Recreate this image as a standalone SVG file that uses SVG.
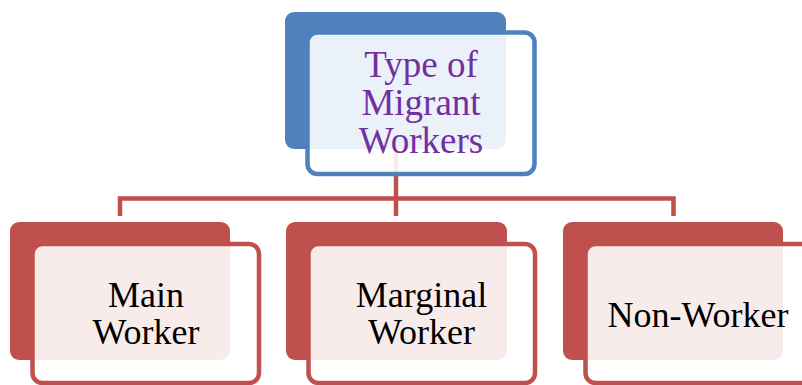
<svg xmlns="http://www.w3.org/2000/svg" width="802" height="385" viewBox="0 0 802 385">
<style>
.conn{fill:none;stroke:#c0504d;stroke-width:4.5;stroke-linejoin:miter}
.backB{fill:#4f81bd}
.frontB{fill:#ffffff;fill-opacity:0.89;stroke:#4f81bd;stroke-width:4.5}
.backR{fill:#c0504d}
.frontR{fill:#ffffff;fill-opacity:0.89;stroke:#c0504d;stroke-width:4.5}
.t{font-family:"Liberation Serif","Times New Roman",serif;text-anchor:middle}
.top{fill:#7030a0;font-size:37px}
.bot{fill:#000000;font-size:36px}
</style>
<rect width="802" height="385" fill="#ffffff"/>
<g id="connectors">
<path class="conn" d="M396,120 V198.5 M120,216 V198.5 H673.5 V216 M396,198.5 V216"/>
</g>
<g id="node-type">
<rect class="backB" x="285" y="12" width="221" height="137" rx="9"/>
<rect class="frontB" x="307.5" y="32.5" width="227" height="141.5" rx="10"/>
<text class="t top" x="421" y="77">Type of</text>
<text class="t top" x="421" y="115">Migrant</text>
<text class="t top" x="421" y="153">Workers</text>
</g>
<g id="node-main">
<rect class="backR" x="10" y="222" width="220" height="138" rx="9"/>
<rect class="frontR" x="32.5" y="244" width="226.5" height="139" rx="10"/>
<text class="t bot" x="146" y="307">Main</text>
<text class="t bot" x="146" y="344">Worker</text>
</g>
<g id="node-marginal">
<rect class="backR" x="286" y="222" width="221" height="138" rx="9"/>
<rect class="frontR" x="308.5" y="244" width="226.5" height="139" rx="10"/>
<text class="t bot" x="421.5" y="307">Marginal</text>
<text class="t bot" x="421.5" y="344">Worker</text>
</g>
<g id="node-non">
<rect class="backR" x="563" y="222" width="220" height="138" rx="9"/>
<rect class="frontR" x="585.5" y="244" width="226.5" height="139" rx="10"/>
<text class="t bot" x="698" y="327">Non-Worker</text>
</g>
</svg>
